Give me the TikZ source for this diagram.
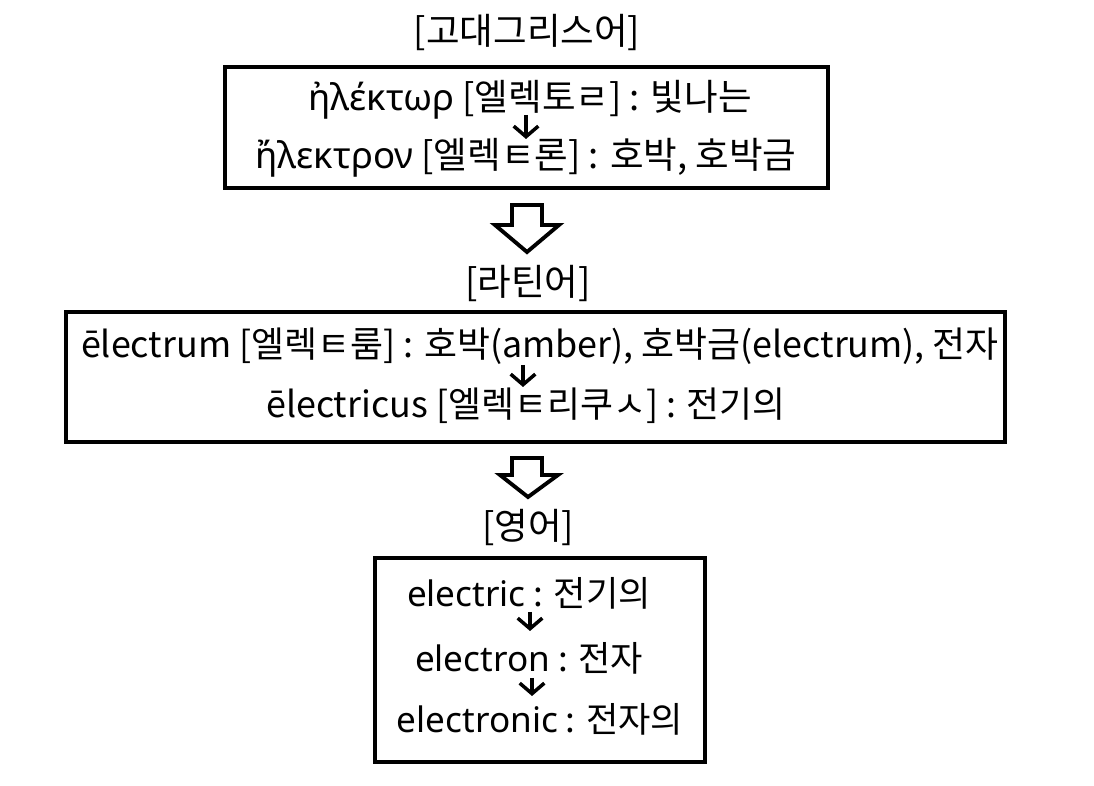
\documentclass[tikz,border=0pt]{standalone}
\usepackage{fontspec}
\setmainfont{Noto Sans CJK KR}
\newfontfamily\grk{Noto Sans}
\usepackage{tikz}
\usetikzlibrary{arrows.meta,calc}

\begin{document}
\begin{tikzpicture}[
    font=\fontsize{10.4}{12}\selectfont,
    caja/.style={draw,line width=1.4pt},
    linea/.style={inner sep=0pt,anchor=center},
    flechita/.style={line width=1pt,-{Straight Barb[length=3pt,width=7pt]}},
    flechota/.style={line width=1.1pt,line join=miter}]
  \useasboundingbox (0,0) rectangle (10.94,-7.86);
  % titulos
  \node (tGr) at (5.27,-0.33) {[고대그리스어]};
  \node (tLa) at (5.28,-2.83) {[라틴어]};
  \node (tEn) at (5.28,-5.27) {[영어]};
  % cajas
  \draw[caja] (2.25,-0.67) rectangle (8.28,-1.88);
  \draw[caja] (0.66,-3.12) rectangle (10.05,-4.42);
  \draw[caja] (3.75,-5.58) rectangle (7.05,-7.62);
  % griego
  \node[linea] (g1) at (5.30,-1.00) {{\grk ἠλέκτωρ} [엘렉토ㄹ] : 빛나는};
  \node[linea] (g2) at (5.26,-1.58) {{\grk ἤλεκτρον} [엘렉ㅌ론] : 호박, 호박금};
  % latin
  \node[linea,font=\fontsize{10.2}{12}\selectfont] (l1) at (5.40,-3.46) {ēlectrum [엘렉ㅌ룸] : 호박(amber), 호박금(electrum), 전자};
  \node[linea,font=\fontsize{10.2}{12}\selectfont] (l2) at (5.26,-4.06) {ēlectricus [엘렉ㅌ리쿠ㅅ] : 전기의};
  % ingles
  \node[linea,font=\fontsize{10}{12}\selectfont] (e1) at (5.29,-5.93) {{\grk electric} : 전기의};
  \node[linea,font=\fontsize{10}{12}\selectfont] (e2) at (5.29,-6.58) {{\grk electron} : 전자};
  \node[linea,font=\fontsize{10}{12}\selectfont] (e3) at (5.40,-7.19) {{\grk electronic} : 전자의};
  % flechitas
  \coordinate (a1) at (5.26,-1.15);
  \coordinate (b1) at (5.26,-1.39);
  \coordinate (a2) at (5.23,-3.65);
  \coordinate (b2) at (5.23,-3.87);
  \coordinate (a3) at (5.30,-6.12);
  \coordinate (b3) at (5.30,-6.31);
  \coordinate (a4) at (5.32,-6.78);
  \coordinate (b4) at (5.32,-6.96);
  \draw[flechita] (a1) -- (b1);
  \draw[flechita] (a2) -- (b2);
  \draw[flechita] (a3) -- (b3);
  \draw[flechita] (a4) -- (b4);
  % flechas grandes
  \draw[flechota] (5.12,-2.05) -- (5.42,-2.05) -- (5.42,-2.25) -- (5.59,-2.25)
    -- (5.27,-2.52) -- (4.95,-2.25) -- (5.12,-2.25) -- cycle;
  \draw[flechota] (5.12,-4.58) -- (5.42,-4.58) -- (5.42,-4.75) -- (5.58,-4.75)
    -- (5.28,-4.97) -- (5.00,-4.75) -- (5.12,-4.75) -- cycle;
\end{tikzpicture}
\end{document}
